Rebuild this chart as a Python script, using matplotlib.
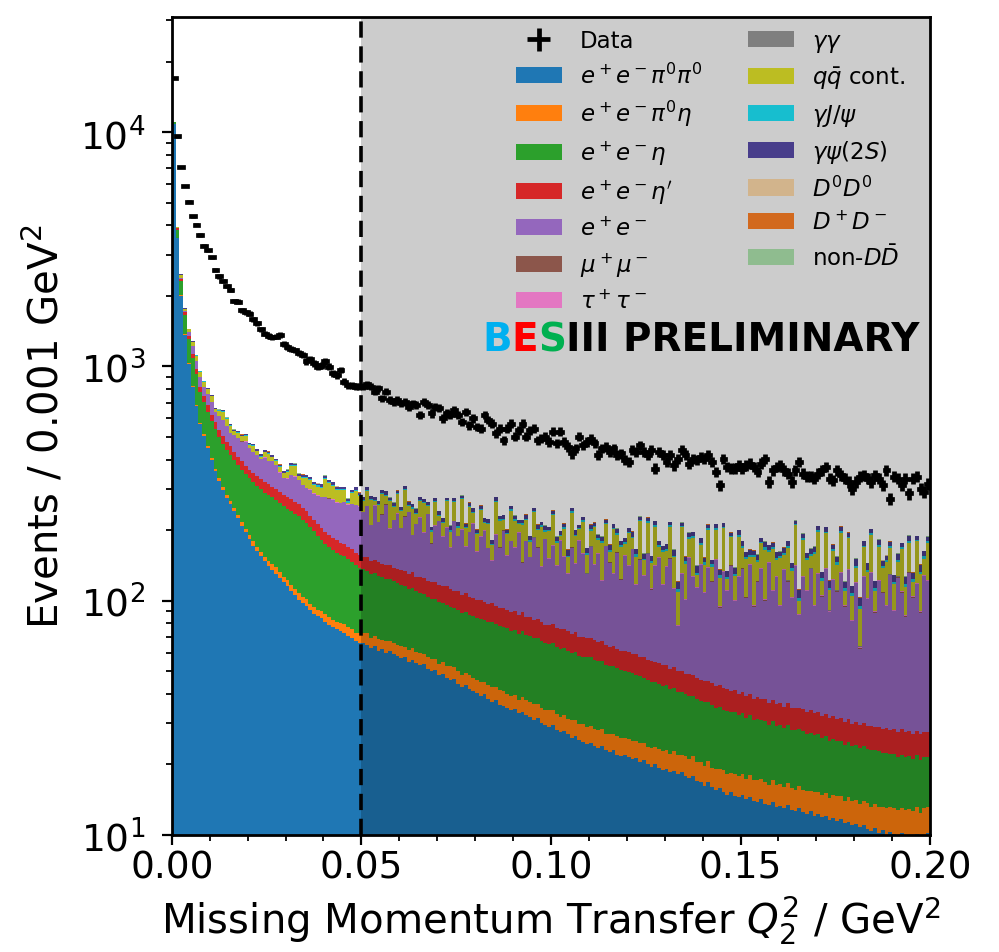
import numpy as np
import matplotlib
matplotlib.use("Agg")
import matplotlib.pyplot as plt
from matplotlib.ticker import MultipleLocator, FormatStrFormatter

# 200 bins of 0.001 GeV^2 from 0 to 0.2
q2_min, q2_max, n_bins = 0.0, 0.2, 200

data = [
    17100, 9580, 7110, 5880, 5040, 4370, 4020, 3640, 3280, 3130,
    2920, 2590, 2420, 2320, 2210, 2120, 1900, 1890, 1740, 1700,
    1680, 1590, 1530, 1440, 1380, 1350, 1330, 1340, 1360, 1250,
    1210, 1190, 1170, 1140, 1120, 1050, 1080, 1030, 998, 1010,
    1050, 999, 933, 918, 964, 860, 832, 832, 819, 819,
    819, 838, 819, 780, 805, 730, 780, 718, 706, 718,
    695, 706, 673, 695, 684, 620, 706, 684, 630, 673,
    662, 600, 630, 620, 650, 620, 580, 640, 561, 600,
    552, 543, 620, 590, 570, 518, 543, 484, 543, 570,
    501, 535, 570, 501, 535, 543, 484, 492, 501, 476,
    526, 469, 526, 476, 454, 425, 447, 501, 461, 476,
    492, 469, 418, 447, 454, 432, 447, 418, 425, 398,
    392, 439, 432, 461, 432, 418, 439, 366, 432, 418,
    392, 418, 378, 404, 439, 418, 385, 404, 398, 411,
    404, 418, 392, 355, 311, 404, 372, 366, 366, 378,
    366, 378, 385, 372, 355, 385, 404, 322, 361, 372,
    378, 361, 349, 322, 361, 392, 349, 338, 338, 332,
    349, 361, 372, 332, 327, 361, 344, 332, 322, 301,
    322, 338, 344, 332, 322, 344, 332, 311, 361, 273,
    338, 332, 311, 332, 287, 332, 338, 301, 291, 316,
]

ee_pi0pi0 = [
    10800, 3520, 2000, 1366, 1027, 814, 677, 567, 506, 449,
    398, 358, 325, 297, 274, 258, 241, 225, 209, 196,
    184, 172, 163, 155, 147, 140, 135, 130, 125, 120,
    115, 110, 106, 101, 98, 95, 91, 88, 86, 84,
    81, 79, 77, 76, 74, 73, 71, 69, 67, 66,
    66, 65, 63, 64, 61, 62, 60, 61, 59, 58,
    57, 57.5, 55, 56, 54, 53, 53.5, 51, 50, 50.5,
    48, 48.5, 47, 46, 46.5, 44, 43, 43.5, 42, 41,
    40.5, 39, 40, 38, 37, 37.5, 36, 35.5, 35, 34,
    34.5, 33, 33.5, 32.5, 32, 31, 31.5, 30, 29.5, 29,
    29.5, 28, 27.5, 27.8, 27, 26, 26.5, 25.5, 25, 24.5,
    24.8, 24, 23.5, 24, 23, 22.5, 23, 22, 21.8, 22,
    21.5, 21, 21.3, 20.5, 20.8, 20, 19.5, 20, 19.3, 19,
    19.2, 18.6, 18.8, 18.2, 18.5, 17.8, 17.5, 17.9, 17, 16.8,
    16.2, 16.8, 16, 15.5, 15.8, 15.2, 14.8, 15.2, 14.6, 14.5,
    14.8, 14.2, 14.5, 14, 13.8, 14.2, 13.6, 13.4, 13.8, 13.2,
    13.3, 13, 13.4, 12.8, 12.6, 13, 12.5, 12.3, 12.6, 12.1,
    12.3, 11.9, 12, 11.6, 11.8, 11.5, 11.7, 11.2, 11.4, 11,
    11.1, 10.8, 11, 10.6, 10.4, 10.7, 10.2, 10.5, 9.9, 10.3,
    10.1, 9.8, 10.2, 9.7, 10, 9.9, 10.1, 9.6, 9.9, 10.2,
]

ee_pi0eta = [
    25, 12, 9, 8, 8, 8, 8, 8, 8, 8,
    8, 8, 7.5, 7.5, 7.5, 8, 7, 7.5, 7, 7,
    7, 7.5, 6.5, 7, 6.5, 7, 8, 9, 7, 6.5,
    7, 6.5, 6, 6.5, 6, 6.5, 6, 6, 5.5, 6,
    6.5, 6, 6, 5.5, 6, 6.5, 6, 6.5, 6, 6.5,
    7, 7.5, 6.5, 7, 7.8, 6.2, 7, 6.6, 6.8, 6.5,
    6.8, 6, 6.5, 7, 6.2, 6.6, 5.8, 6.4, 6.6, 6,
    5.8, 6.2, 5.5, 6.4, 5.6, 6, 5.4, 5.8, 6.2, 5.6,
    5.5, 5.9, 5, 5.6, 5.8, 5.2, 5.4, 5.6, 5, 5.3,
    5.2, 4.8, 5.4, 5, 4.9, 5.3, 4.6, 5, 4.8, 5.1,
    4.7, 4.9, 4.5, 4.8, 4.4, 4.9, 4.6, 4.3, 4.7, 4.4,
    4.5, 4.2, 4.6, 4.3, 4.1, 4.5, 4, 4.4, 4.2, 4,
    4.1, 4.3, 3.9, 4.2, 4, 3.8, 4.1, 3.7, 4, 3.8,
    3.9, 3.6, 4, 3.7, 3.5, 3.9, 3.6, 3.8, 3.4, 3.7,
    3.5, 3.8, 3.4, 3.6, 3.3, 3.7, 3.4, 3.2, 3.6, 3.3,
    3.4, 3.2, 3.5, 3.1, 3.4, 3.2, 3.3, 3, 3.4, 3.1,
    3.2, 3, 3.3, 3.1, 2.9, 3.2, 3, 3.1, 2.8, 3.2,
    3, 2.9, 3.1, 2.8, 3, 3.1, 2.9, 2.8, 3.1, 2.9,
    3, 2.8, 2.9, 3.1, 2.8, 2.9, 3, 2.7, 3.1, 2.8,
    2.9, 3, 2.8, 3.1, 2.9, 2.7, 3, 2.8, 3.1, 2.9,
]

ee_eta = [
    190, 300, 300, 290, 268, 260, 241, 200, 189, 182,
    176, 172, 166, 162, 158, 154, 150, 147, 146, 144,
    142, 141, 140, 138, 136, 135, 133, 131, 129, 127,
    125, 124, 123, 122, 118, 114, 109, 104, 98, 92,
    87, 84, 81, 79, 77, 75, 73, 71, 69, 66,
    63, 62, 60.5, 60, 58.5, 58, 57, 56.5, 55, 54.5,
    53, 52.5, 51, 50, 49.5, 48.5, 47, 46.5, 45.5, 45,
    44.5, 43, 43.5, 42, 41, 41.5, 40, 40.5, 39, 39.5,
    38.5, 39, 38, 37.5, 38, 37, 36.5, 36, 36.5, 35,
    35.5, 34.5, 35, 34, 33.5, 33, 33.5, 32, 31.5, 31,
    31.5, 30.5, 30, 30.5, 29.5, 29, 29.5, 28.5, 28, 28.5,
    28, 27.5, 27, 26.8, 26, 25.5, 25.8, 25, 24.5, 24.2,
    24, 23.6, 23, 22.8, 22.2, 22, 21.5, 21.3, 21, 20.5,
    20.4, 19.6, 19.5, 18.8, 18.9, 18.1, 18.2, 17.5, 17.6, 16.9,
    17.1, 16.4, 16.5, 15.9, 16.0, 15.4, 15.6, 15.0, 15.2, 14.7,
    14.9, 14.3, 14.5, 13.9, 14.1, 13.6, 13.7, 13.2, 13.4, 12.9,
    13.1, 12.5, 12.8, 12.2, 12.5, 12.0, 12.2, 11.7, 11.9, 11.4,
    11.6, 11.1, 11.3, 10.9, 11.0, 10.6, 10.7, 10.3, 10.4, 10.0,
    10.2, 9.8, 10.0, 9.6, 9.8, 9.4, 9.6, 9.2, 9.4, 9.0,
    9.2, 8.8, 9.0, 8.7, 8.9, 8.6, 8.8, 8.4, 8.6, 8.4,
]

ee_etap = [
    60, 50, 60, 45, 44, 44, 46, 40, 45, 42,
    40, 39, 38, 37, 36, 36, 35, 33, 31, 30,
    30, 31, 32, 32, 33, 32, 31, 30, 31, 30,
    29, 30, 28, 28, 27, 26, 25, 24, 23, 23,
    22, 22, 21, 21, 20, 20, 19, 19, 18, 18,
    18, 18.5, 17.5, 18, 19, 17, 18, 18.5, 17.5, 18,
    18.5, 17.5, 18, 19, 17, 18, 18.5, 17.5, 18, 19,
    18, 17.5, 19, 18, 17, 18.5, 17.5, 18, 16.5, 17,
    16.5, 17, 15.5, 16, 16.5, 15, 15.5, 16, 14.5, 15,
    15, 14.5, 15.5, 14, 14.5, 13.5, 14, 14.5, 13, 13.5,
    13.5, 13, 13.5, 12.5, 13, 12.5, 13, 12, 12.5, 12,
    12, 12.5, 11.5, 12, 11.5, 11, 11.5, 11, 10.5, 11,
    11, 10.5, 10.8, 10.2, 10.5, 10, 10.4, 9.8, 10, 9.6,
    9.8, 9.4, 9.6, 9.2, 9.4, 9, 9.2, 8.8, 9, 8.6,
    8.8, 8.4, 8.6, 8.2, 8.4, 8, 8.2, 7.8, 8, 7.6,
    7.8, 7.4, 7.6, 7.2, 7.4, 7.1, 7.3, 7, 7.2, 6.9,
    7.1, 6.8, 7, 6.7, 6.9, 6.6, 6.8, 6.5, 6.7, 6.4,
    6.6, 6.3, 6.5, 6.2, 6.4, 6.2, 6.3, 6.1, 6.3, 6,
    6.2, 6, 6.2, 5.9, 6.1, 6, 6.2, 5.9, 6.1, 6,
    6.1, 5.9, 6.2, 6, 6.1, 5.8, 6, 6.2, 5.9, 6,
]

ee = [
    0, 5, 15, 15, 58, 100, 83, 84, 70, 80,
    85, 60, 78, 85, 80, 64, 75, 82, 85, 100,
    84, 80, 78, 70, 85, 80, 88, 80, 60, 50,
    56, 72, 75, 70, 62, 60, 66, 64, 68, 72,
    80, 82, 85, 80, 84, 88, 88, 92, 96, 95,
    84, 100, 62, 105, 70, 90, 115, 60, 82, 98,
    68, 95, 108, 58, 85, 100, 70, 112, 55, 88,
    102, 72, 90, 55, 108, 78, 95, 62, 92, 110,
    60, 86, 100, 70, 50, 96, 75, 106, 64, 90,
    78, 108, 56, 94, 68, 102, 85, 58, 104, 72,
    92, 64, 104, 78, 56, 96, 70, 110, 88, 60,
    100, 74, 92, 54, 106, 82, 66, 98, 62, 94,
    80, 106, 58, 92, 70, 102, 56, 86, 98, 64,
    86, 100, 60, 28, 80, 52, 104, 78, 66, 96,
    62, 92, 76, 106, 50, 90, 68, 100, 58, 86,
    96, 64, 102, 56, 82, 98, 62, 108, 72, 90,
    58, 100, 84, 68, 106, 52, 92, 76, 102, 62,
    96, 72, 104, 58, 90, 78, 100, 64, 104, 52,
    88, 33, 96, 72, 102, 60, 92, 80, 66, 100,
    62, 98, 80, 58, 104, 76, 90, 62, 100, 94,
]

mumu = [
    0.4, 0.3, 0.3, 0.2, 0.3, 0.4, 0.3, 0.2, 0.3, 0.3,
    0.2, 0.3, 0.4, 0.3, 0.2, 0.3, 0.3, 0.4, 0.2, 0.3,
    0.3, 0.2, 0.3, 0.4, 0.3, 0.2, 0.3, 0.3, 0.2, 0.4,
    0.3, 0.3, 0.2, 0.3, 0.4, 0.3, 0.2, 0.3, 0.3, 0.2,
    0.4, 0.3, 0.2, 0.3, 0.3, 0.4, 0.2, 0.3, 0.3, 0.2,
    0.3, 0.4, 0.3, 0.2, 0.3, 0.3, 0.4, 0.2, 0.3, 0.3,
    0.2, 0.3, 0.4, 0.3, 0.2, 0.3, 0.3, 0.2, 0.4, 0.3,
    0.3, 0.2, 0.3, 0.3, 0.4, 0.2, 0.3, 0.3, 0.2, 0.3,
    0.4, 0.3, 0.2, 0.3, 0.3, 0.2, 0.4, 0.3, 0.3, 0.2,
    0.3, 0.3, 0.4, 0.2, 0.3, 0.3, 0.2, 0.3, 0.4, 0.3,
    0.2, 0.3, 0.3, 0.4, 0.2, 0.3, 0.3, 0.2, 0.3, 0.4,
    0.3, 0.2, 0.3, 0.3, 0.2, 0.4, 0.3, 0.3, 0.2, 0.3,
    0.3, 0.4, 0.2, 0.3, 0.3, 0.2, 0.3, 0.4, 0.3, 0.2,
    0.3, 0.3, 0.2, 0.4, 0.3, 0.3, 0.2, 0.3, 0.3, 0.4,
    0.2, 0.3, 0.3, 0.2, 0.3, 0.4, 0.3, 0.2, 0.3, 0.3,
    0.4, 0.2, 0.3, 0.3, 0.2, 0.3, 0.4, 0.3, 0.2, 0.3,
    0.3, 0.2, 0.4, 0.3, 0.3, 0.2, 0.3, 0.3, 0.4, 0.2,
    0.3, 0.3, 0.2, 0.3, 0.4, 0.3, 0.2, 0.3, 0.3, 0.2,
    0.4, 0.3, 0.3, 0.2, 0.3, 0.3, 0.4, 0.2, 0.3, 0.3,
    0.2, 0.3, 0.4, 0.3, 0.2, 0.3, 0.3, 0.2, 0.4, 0.3,
]

tautau = [
    0.8, 0.9, 1.0, 0.7, 0.9, 0.8, 1.1, 0.9, 0.8, 1.0,
    0.9, 0.7, 0.8, 1.0, 0.9, 0.8, 0.7, 0.9, 1.0, 0.8,
    0.9, 1.1, 0.8, 0.7, 0.9, 1.0, 0.8, 0.9, 0.7, 1.0,
    0.8, 0.9, 1.0, 0.8, 0.7, 0.9, 1.1, 0.8, 0.9, 0.7,
    1.0, 0.8, 0.9, 0.7, 1.0, 0.9, 0.8, 1.1, 0.7, 0.9,
    0.8, 1.0, 0.9, 0.7, 0.8, 1.1, 0.9, 0.8, 1.0, 0.7,
    0.9, 0.8, 1.0, 0.9, 0.7, 0.8, 1.1, 0.9, 0.8, 1.0,
    0.7, 0.9, 0.8, 1.0, 0.9, 0.8, 0.7, 1.1, 0.9, 0.8,
    1.0, 0.9, 0.7, 0.8, 1.0, 0.9, 0.8, 0.7, 1.1, 0.9,
    0.8, 1.0, 0.9, 0.7, 0.8, 0.9, 1.1, 0.8, 0.7, 1.0,
    0.9, 0.8, 1.0, 0.9, 0.7, 1.1, 0.8, 0.9, 1.0, 0.8,
    0.7, 0.9, 0.8, 1.0, 0.9, 0.8, 1.1, 0.7, 0.9, 1.0,
    0.8, 0.9, 0.7, 1.0, 0.8, 0.9, 1.1, 0.8, 0.7, 0.9,
    1.0, 0.8, 0.9, 0.7, 1.0, 0.9, 0.8, 1.1, 0.9, 0.8,
    0.7, 1.0, 0.9, 0.8, 0.9, 0.7, 1.0, 0.8, 1.1, 0.9,
    0.8, 0.7, 1.0, 0.9, 0.8, 1.0, 0.9, 0.7, 0.8, 1.1,
    0.9, 0.8, 1.0, 0.7, 0.9, 0.8, 1.0, 0.9, 0.8, 0.7,
    1.1, 0.9, 0.8, 1.0, 0.9, 0.7, 0.8, 1.0, 0.9, 0.8,
    0.7, 1.0, 0.9, 0.8, 1.1, 0.9, 0.7, 0.8, 1.0, 0.9,
    0.8, 0.9, 1.0, 0.7, 0.8, 1.1, 0.9, 0.8, 0.9, 1.0,
]

gammagamma = [
    0.1, 0.1, 0.2, 0.1, 0.1, 0.1, 0.2, 0.1, 0.1, 0.1,
    0.1, 0.2, 0.1, 0.1, 0.1, 0.1, 0.2, 0.1, 0.1, 0.1,
    0.2, 0.1, 0.1, 0.1, 0.1, 0.2, 0.1, 0.1, 0.1, 0.1,
    0.1, 0.1, 0.2, 0.1, 0.1, 0.1, 0.1, 0.2, 0.1, 0.1,
    0.1, 0.2, 0.1, 0.1, 0.1, 0.2, 0.1, 0.1, 0.1, 0.1,
    0.2, 0.1, 0.1, 0.1, 0.1, 0.1, 0.2, 0.1, 0.1, 0.1,
    0.1, 0.1, 0.1, 0.2, 0.1, 0.1, 0.1, 0.1, 0.2, 0.1,
    0.1, 0.2, 0.1, 0.1, 0.1, 0.1, 0.2, 0.1, 0.1, 0.1,
    0.1, 0.1, 0.2, 0.1, 0.1, 0.1, 0.1, 0.1, 0.2, 0.1,
    0.2, 0.1, 0.1, 0.1, 0.2, 0.1, 0.1, 0.1, 0.1, 0.1,
    0.1, 0.1, 0.1, 0.2, 0.1, 0.1, 0.2, 0.1, 0.1, 0.1,
    0.1, 0.2, 0.1, 0.1, 0.1, 0.1, 0.1, 0.2, 0.1, 0.1,
    0.1, 0.1, 0.2, 0.1, 0.1, 0.2, 0.1, 0.1, 0.1, 0.1,
    0.2, 0.1, 0.1, 0.1, 0.1, 0.1, 0.2, 0.1, 0.1, 0.2,
    0.1, 0.1, 0.1, 0.2, 0.1, 0.1, 0.1, 0.1, 0.2, 0.1,
    0.1, 0.2, 0.1, 0.1, 0.1, 0.2, 0.1, 0.1, 0.1, 0.1,
    0.1, 0.1, 0.1, 0.2, 0.1, 0.1, 0.1, 0.2, 0.1, 0.1,
    0.2, 0.1, 0.1, 0.1, 0.1, 0.2, 0.1, 0.1, 0.1, 0.1,
    0.1, 0.1, 0.2, 0.1, 0.1, 0.1, 0.2, 0.1, 0.1, 0.1,
    0.1, 0.2, 0.1, 0.1, 0.1, 0.1, 0.1, 0.2, 0.1, 0.1,
]

qqbar = [
    15, 52, 75, 36, 35, 44, 55, 50, 42, 38,
    38, 18, 30, 50, 40, 37, 20, 24, 24, 28,
    13, 25, 14, 9, 21, 28, 13, 13, 19, 15,
    20, 31, 36, 11, 23, 32, 29, 23, 25, 26,
    54, 43, 39, 33, 34, 32, 4, 29, 37, 26,
    28, 40, 58, 12, 38, 52, 22, 62, 30, 48,
    36, 68, 14, 56, 22, 40, 65, 18, 20, 55,
    10, 26, 60, 28, 44, 16, 70, 32, 54, 22,
    30, 56, 14, 44, 24, 72, 50, 20, 36, 62,
    50, 16, 64, 40, 24, 54, 30, 66, 12, 46,
    60, 34, 8, 48, 22, 68, 44, 20, 58, 26,
    28, 62, 22, 54, 40, 14, 70, 30, 46, 18,
    52, 18, 36, 68, 20, 56, 32, 64, 16, 44,
    22, 54, 40, 30, 74, 42, 30, 58, 14, 30,
    34, 62, 18, 50, 30, 70, 12, 44, 26, 60,
    30, 46, 10, 58, 24, 38, 64, 16, 56, 22,
    56, 20, 46, 30, 68, 12, 54, 38, 18, 62,
    66, 16, 56, 20, 40, 32, 62, 14, 48, 22,
    18, 28, 42, 30, 58, 20, 48, 28, 50, 38,
    26, 20, 56, 28, 44, 16, 60, 40, 22, 54,
]

gamma_jpsi = [
    4, 4, 5, 4, 3.5, 3, 3.5, 3, 3, 3.5,
    3, 2.5, 3, 3.5, 3, 2.5, 3, 3, 2.5, 3,
    3.5, 3, 2.5, 3, 3, 3.5, 2.5, 3, 3, 2.5,
    3, 3.5, 3, 2.5, 3, 3, 2.5, 3, 3.5, 3,
    2.5, 3, 3, 3.5, 2.5, 3, 3, 2.5, 3, 3.5,
    3, 2.5, 3.5, 3, 3, 2.5, 3, 3.5, 2.5, 3,
    3, 3.5, 2.5, 3, 3, 2.5, 3.5, 3, 3, 2.5,
    3.5, 3, 2.5, 3, 3.5, 3, 2.5, 3, 3, 3.5,
    2.5, 3, 3.5, 3, 2.5, 3, 3, 3.5, 2.5, 3,
    3, 2.5, 3, 3.5, 3, 2.5, 3, 3, 3.5, 2.5,
    3, 3.5, 2.5, 3, 3, 3.5, 2.5, 3, 3, 2.5,
    3.5, 3, 3, 2.5, 3, 3.5, 3, 2.5, 3, 3,
    2.5, 3, 3.5, 3, 2.5, 3, 3, 3.5, 3, 2.5,
    3, 3, 2.5, 3.5, 3, 3, 2.5, 3, 3.5, 3,
    3, 2.5, 3, 3, 3.5, 2.5, 3, 3, 2.5, 3.5,
    3, 3.5, 2.5, 3, 3, 3, 3.5, 2.5, 3, 3,
    2.5, 3, 3, 3.5, 3, 2.5, 3, 3.5, 3, 2.5,
    3, 3.5, 3, 2.5, 3, 3, 3.5, 3, 2.5, 3,
    3.5, 3, 2.5, 3, 3, 3.5, 2.5, 3, 3, 3,
    3, 2.5, 3, 3.5, 3, 3, 2.5, 3, 3.5, 3,
]

gamma_psi2s = [
    4, 4, 6, 5, 5, 5, 6, 5, 5, 6,
    5, 6, 5, 6, 5, 6, 5, 6, 6, 5,
    6, 5, 6, 6, 5, 6, 6, 5, 6, 6,
    6, 7, 6, 6, 7, 6, 6, 7, 6, 7,
    7, 6, 7, 8, 6, 7, 7, 6, 8, 7,
    6, 8, 7, 6, 8, 7, 9, 6, 7, 8,
    7, 6, 8, 7, 9, 6, 7, 8, 6, 7,
    8, 7, 6, 9, 7, 8, 6, 7, 8, 9,
    6, 7, 8, 7, 6, 9, 7, 8, 6, 7,
    8, 6, 7, 9, 7, 6, 8, 7, 9, 6,
    7, 8, 6, 7, 9, 7, 8, 6, 7, 8,
    9, 7, 6, 8, 7, 9, 7, 8, 6, 7,
    7, 9, 8, 6, 7, 8, 7, 9, 7, 6,
    8, 7, 9, 8, 6, 7, 8, 7, 9, 8,
    7, 8, 6, 9, 7, 8, 7, 6, 8, 9,
    8, 7, 9, 7, 8, 6, 9, 8, 7, 8,
    7, 9, 8, 7, 6, 9, 8, 7, 8, 9,
    8, 7, 9, 8, 7, 8, 9, 7, 8, 7,
    9, 8, 7, 9, 8, 7, 9, 8, 7, 8,
    8, 9, 7, 8, 9, 8, 7, 9, 8, 7,
]

d0d0 = [
    0.1, 0.1, 0.1, 0.2, 0.1, 0.1, 0.1, 0.1, 0.2, 0.1,
    0.1, 0.1, 0.2, 0.1, 0.1, 0.1, 0.1, 0.1, 0.2, 0.1,
    0.1, 0.2, 0.1, 0.1, 0.1, 0.1, 0.2, 0.1, 0.1, 0.1,
    0.2, 0.1, 0.1, 0.1, 0.2, 0.1, 0.1, 0.1, 0.1, 0.2,
    0.1, 0.1, 0.1, 0.2, 0.1, 0.1, 0.2, 0.1, 0.1, 0.1,
    0.1, 0.2, 0.1, 0.1, 0.1, 0.2, 0.1, 0.1, 0.2, 0.1,
    0.1, 0.1, 0.2, 0.1, 0.1, 0.1, 0.1, 0.2, 0.1, 0.1,
    0.2, 0.1, 0.1, 0.1, 0.1, 0.2, 0.1, 0.1, 0.1, 0.2,
    0.1, 0.1, 0.2, 0.1, 0.1, 0.1, 0.2, 0.1, 0.1, 0.1,
    0.1, 0.2, 0.1, 0.1, 0.2, 0.1, 0.1, 0.1, 0.2, 0.1,
    0.1, 0.1, 0.1, 0.2, 0.1, 0.1, 0.1, 0.2, 0.1, 0.1,
    0.2, 0.1, 0.1, 0.1, 0.2, 0.1, 0.1, 0.1, 0.1, 0.2,
    0.1, 0.1, 0.2, 0.1, 0.1, 0.1, 0.2, 0.1, 0.1, 0.1,
    0.1, 0.2, 0.1, 0.1, 0.1, 0.1, 0.2, 0.1, 0.1, 0.2,
    0.1, 0.1, 0.1, 0.2, 0.1, 0.1, 0.1, 0.1, 0.2, 0.1,
    0.2, 0.1, 0.1, 0.1, 0.1, 0.2, 0.1, 0.1, 0.1, 0.1,
    0.1, 0.1, 0.2, 0.1, 0.1, 0.1, 0.2, 0.1, 0.1, 0.2,
    0.1, 0.2, 0.1, 0.1, 0.1, 0.1, 0.1, 0.2, 0.1, 0.1,
    0.1, 0.1, 0.1, 0.2, 0.1, 0.2, 0.1, 0.1, 0.1, 0.1,
    0.2, 0.1, 0.1, 0.1, 0.2, 0.1, 0.1, 0.1, 0.2, 0.1,
]

dpdm = [
    0.5, 0.4, 0.6, 0.5, 0.4, 0.5, 0.6, 0.4, 0.5, 0.5,
    0.4, 0.6, 0.5, 0.5, 0.4, 0.6, 0.5, 0.4, 0.5, 0.6,
    0.5, 0.4, 0.5, 0.6, 0.5, 0.4, 0.6, 0.5, 0.5, 0.4,
    0.6, 0.5, 0.4, 0.5, 0.5, 0.6, 0.4, 0.5, 0.6, 0.5,
    0.4, 0.5, 0.6, 0.5, 0.4, 0.5, 0.5, 0.6, 0.4, 0.5,
    0.6, 0.5, 0.4, 0.5, 0.6, 0.5, 0.5, 0.4, 0.6, 0.5,
    0.5, 0.4, 0.6, 0.5, 0.5, 0.4, 0.5, 0.6, 0.5, 0.4,
    0.6, 0.5, 0.5, 0.4, 0.6, 0.5, 0.4, 0.5, 0.6, 0.5,
    0.5, 0.6, 0.4, 0.5, 0.5, 0.6, 0.5, 0.4, 0.5, 0.6,
    0.4, 0.5, 0.6, 0.5, 0.4, 0.5, 0.6, 0.5, 0.5, 0.4,
    0.5, 0.6, 0.5, 0.4, 0.5, 0.5, 0.6, 0.4, 0.5, 0.6,
    0.5, 0.4, 0.5, 0.6, 0.5, 0.4, 0.5, 0.6, 0.5, 0.5,
    0.6, 0.5, 0.4, 0.5, 0.6, 0.5, 0.4, 0.5, 0.5, 0.6,
    0.5, 0.4, 0.6, 0.5, 0.5, 0.4, 0.6, 0.5, 0.4, 0.5,
    0.6, 0.5, 0.5, 0.4, 0.5, 0.6, 0.5, 0.4, 0.6, 0.5,
    0.4, 0.5, 0.6, 0.5, 0.4, 0.5, 0.6, 0.5, 0.5, 0.4,
    0.5, 0.6, 0.4, 0.5, 0.6, 0.5, 0.4, 0.5, 0.6, 0.5,
    0.5, 0.4, 0.5, 0.6, 0.5, 0.4, 0.6, 0.5, 0.5, 0.4,
    0.6, 0.5, 0.4, 0.5, 0.6, 0.5, 0.5, 0.4, 0.6, 0.5,
    0.4, 0.5, 0.6, 0.5, 0.4, 0.6, 0.5, 0.5, 0.4, 0.6,
]

non_ddbar = [
    0.4, 0.3, 0.5, 0.4, 0.3, 0.4, 0.5, 0.3, 0.4, 0.4,
    0.3, 0.5, 0.4, 0.4, 0.3, 0.5, 0.4, 0.3, 0.4, 0.5,
    0.4, 0.3, 0.4, 0.5, 0.4, 0.3, 0.5, 0.4, 0.4, 0.3,
    0.5, 0.4, 0.3, 0.4, 0.4, 0.5, 0.3, 0.4, 0.5, 0.4,
    0.3, 0.4, 0.5, 0.4, 0.3, 0.4, 0.4, 0.5, 0.3, 0.4,
    0.5, 0.4, 0.3, 0.4, 0.5, 0.4, 0.4, 0.3, 0.5, 0.4,
    0.4, 0.3, 0.5, 0.4, 0.4, 0.3, 0.4, 0.5, 0.4, 0.3,
    0.5, 0.4, 0.4, 0.3, 0.5, 0.4, 0.3, 0.4, 0.5, 0.4,
    0.4, 0.5, 0.3, 0.4, 0.4, 0.5, 0.4, 0.3, 0.4, 0.5,
    0.3, 0.4, 0.5, 0.4, 0.3, 0.4, 0.5, 0.4, 0.4, 0.3,
    0.4, 0.5, 0.4, 0.3, 0.4, 0.4, 0.5, 0.3, 0.4, 0.5,
    0.4, 0.3, 0.4, 0.5, 0.4, 0.3, 0.4, 0.5, 0.4, 0.4,
    0.5, 0.4, 0.3, 0.4, 0.5, 0.4, 0.3, 0.4, 0.4, 0.5,
    0.4, 0.3, 0.5, 0.4, 0.4, 0.3, 0.5, 0.4, 0.3, 0.4,
    0.5, 0.4, 0.4, 0.3, 0.4, 0.5, 0.4, 0.3, 0.5, 0.4,
    0.3, 0.4, 0.5, 0.4, 0.3, 0.4, 0.5, 0.4, 0.4, 0.3,
    0.4, 0.5, 0.3, 0.4, 0.5, 0.4, 0.3, 0.4, 0.5, 0.4,
    0.4, 0.3, 0.4, 0.5, 0.4, 0.3, 0.5, 0.4, 0.4, 0.3,
    0.5, 0.4, 0.3, 0.4, 0.5, 0.4, 0.4, 0.3, 0.5, 0.4,
    0.3, 0.4, 0.5, 0.4, 0.3, 0.5, 0.4, 0.4, 0.3, 0.5,
]

mc_samples = [ee_pi0pi0, ee_pi0eta, ee_eta, ee_etap, ee, mumu, tautau,
              gammagamma, qqbar, gamma_jpsi, gamma_psi2s, d0d0, dpdm, non_ddbar]
mc_labels = [r'$e^+e^-\pi^0\pi^0$', r'$e^+e^-\pi^0\eta$', r'$e^+e^-\eta$',
             r"$e^+e^-\eta'$", r'$e^+e^-$', r'$\mu^+\mu^-$', r'$\tau^+\tau^-$',
             r'$\gamma\gamma$', r'$q\bar{q}$ cont.', r'$\gamma J/\psi$',
             r'$\gamma\psi(2S)$', r'$D^0D^0$', r'$D^+D^-$', r'non-$D\bar{D}$']
mc_colors = ['#1f77b4', '#ff7f0e', '#2ca02c', '#d62728', '#9467bd', '#8c564b',
             '#e377c2', '#7f7f7f', '#bcbd22', '#17becf', '#483d8b', '#d2b48c',
             '#d2691e', '#8fbc8f']
cut_value = 0.05


def main():
    edges = np.linspace(q2_min, q2_max, n_bins + 1)
    centers = 0.5 * (edges[1:] + edges[:-1])
    width = edges[1] - edges[0]

    fig = plt.figure(figsize=(9.99, 9.53), dpi=100)
    ax = fig.add_axes([0.172, 0.1228, 0.759, 0.8583])

    _, _, patches = ax.hist([centers] * len(mc_samples), bins=edges, weights=mc_samples,
                            stacked=True, histtype='stepfilled', color=mc_colors,
                            label=mc_labels, log=True, zorder=1)

    ax.axvspan(cut_value, q2_max, color='k', alpha=0.2, lw=0, zorder=2)
    ax.axvline(cut_value, color='k', lw=2.6, ls=(0, (4.5, 2.4)), zorder=3)

    d = np.array(data, dtype=float)
    eb = ax.errorbar(centers, d, xerr=width / 2, yerr=np.sqrt(d), fmt='none',
                     ecolor='k', elinewidth=3.4, label='Data', zorder=4)
    eb[2][0].set_capstyle('projecting')

    ax.set_xlim(q2_min, q2_max)
    ax.set_ylim(10, 3.1e4)
    ax.xaxis.set_major_locator(MultipleLocator(0.05))
    ax.xaxis.set_minor_locator(MultipleLocator(0.01))
    ax.xaxis.set_major_formatter(FormatStrFormatter('%.2f'))
    ax.tick_params(which='major', length=7, width=1.6, labelsize=27)
    ax.tick_params(which='minor', length=4, width=1.3)
    ax.tick_params(axis='y', which='major', pad=12)
    for sp in ax.spines.values():
        sp.set_linewidth(2.0)

    ax.set_xlabel(r'Missing Momentum Transfer $Q_2^2$ / GeV$^2$', fontsize=29, labelpad=6)
    ax.set_ylabel(r'Events / 0.001 GeV$^2$', fontsize=29, labelpad=9)

    handles = [eb] + [p[0] for p in patches]
    labels = ['Data'] + mc_labels
    leg = ax.legend(handles, labels, ncol=2, frameon=False, fontsize=16.5,
                    labelspacing=0.45, loc='upper right', bbox_to_anchor=(0.995, 1.01))
    leg.set_zorder(6)

    # coloured experiment tag
    parts = [('B', '#00b0f0'), ('E', '#ff0000'), ('S', '#00b050'),
             ('III PRELIMINARY', 'k')]
    prev = ax.text(0.409, 0.583, parts[0][0], color=parts[0][1], fontsize=28,
                   fontweight='bold', transform=ax.transAxes, va='bottom', zorder=7)
    for s, c in parts[1:]:
        prev = ax.annotate(s, xy=(1, 0), xycoords=prev, color=c, fontsize=28,
                           fontweight='bold', va='bottom', zorder=7)

    fig.savefig('out.png', dpi=100)


if __name__ == '__main__':
    main()
